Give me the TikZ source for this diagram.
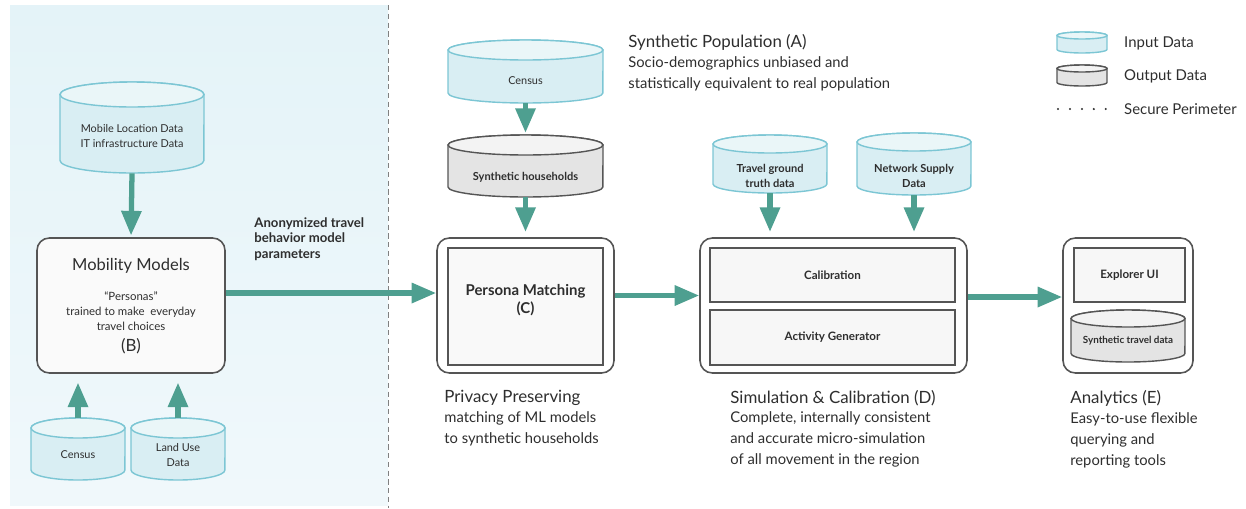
\documentclass[tikz,border=0pt]{standalone}
\usepackage{fontspec}
\setmainfont{Lato}
\usetikzlibrary{arrows.meta,positioning}
\definecolor{flowteal}{HTML}{4E9F90}
\definecolor{infill}{HTML}{D9EEF3}
\definecolor{inedge}{HTML}{7CC6D4}
\definecolor{outfill}{HTML}{E4E4E4}
\definecolor{outedge}{HTML}{555555}
\definecolor{panelbg}{HTML}{E4F3F8}
\definecolor{txt}{HTML}{2E2E2E}

% data store: kind, name, x, y, width, height, ellipse depth (px), node options
\newcommand{\datacyl}[8]{%
  \path[#1body] ({#3-#5/2},{#4-#6/2+#7/2}) -- ({#3-#5/2},{#4+#6/2-#7/2})
    arc[start angle=180, end angle=360, x radius=#5*0.01cm, y radius=#7*0.01cm]
    -- ({#3+#5/2},{#4-#6/2+#7/2})
    arc[start angle=0, end angle=180, x radius=#5*0.01cm, y radius=#7*0.01cm] -- cycle;
  \path[#1end] (#3,{#4-#6/2+#7/2}) ellipse [x radius=#5*0.01cm, y radius=#7*0.01cm];
  \node[inner sep=0pt, minimum width=#5*0.02cm, minimum height=#6*0.02cm, #8] (#2) at (#3,#4) {};
}

\begin{document}
\begin{tikzpicture}[
    x=0.02cm,y=-0.02cm,
    every node/.style={text=txt},
    inbody/.style={draw=inedge, line width=0.8pt, fill=infill},
    inend/.style={draw=inedge, line width=0.8pt, fill=infill!55!white},
    outbody/.style={draw=outedge, line width=0.8pt, fill=outfill},
    outend/.style={draw=outedge, line width=0.8pt, fill=outfill!45!white},
    cyllabel/.style={yshift=-#1, align=center, inner sep=0pt, font=\fontsize{6.2}{8.2}\selectfont},
    cylbold/.style={cyllabel=#1, font=\fontsize{6.3}{8}\selectfont\bfseries},
    stage/.style={draw=outedge, line width=0.9pt, fill=white, rounded corners=7pt},
    part/.style={draw=outedge, line width=0.9pt, fill=gray!6, align=center, font=\fontsize{6.6}{8}\selectfont\bfseries},
    flow/.style={draw=flowteal, line width=3pt, -{Triangle[length=14pt,width=11pt]}},
    caption/.style={align=left, font=\fontsize{8.4}{12}\selectfont, inner sep=0pt},
    heading/.style={anchor=north west, inner sep=0pt, font=\fontsize{9.6}{12}\selectfont}
    ]
    \useasboundingbox (0,0) rectangle (1246,508);
    % secure perimeter
    \shade[top color=panelbg, bottom color=panelbg!55!white] (10,5) rectangle (388,505);
    \draw[gray, dash pattern=on 3pt off 2pt] (388,5) -- (388,508);

    % mobility models (B)
    \datacyl{in}{mobdata}{132}{127.5}{144}{91}{25}{label={[cyllabel=4.8pt]center:{Mobile Location Data\\IT infrastructure Data}}}
    \node[stage, fill=gray!4, minimum width=3.76cm, minimum height=2.7cm] (mobmodel) at (131,305.5) {};
    \node[font=\fontsize{9.4}{11}\selectfont] at (131,266) {Mobility Models};
    \node[align=center, font=\fontsize{6.5}{8.5}\selectfont] at (131,311) {``Personas''\\trained to make\ \ everyday\\travel choices};
    \node[font=\fontsize{9.6}{11}\selectfont] at (131,346) {(B)};
    \datacyl{in}{census1}{78}{449}{94}{62}{20}{label={[cyllabel=3.4pt]center:Census}}
    \datacyl{in}{landuse}{178}{449}{94}{62}{20}{label={[cyllabel=3.4pt]center:{Land Use\\Data}}}
    \node[anchor=north west, align=left, inner sep=0pt, font=\fontsize{7.5}{8.8}\selectfont\bfseries] (anon) at (254,217) {Anonymized travel\\behavior model\\parameters};

    % synthetic population (A) and persona matching (C)
    \datacyl{in}{census2}{525.5}{71.5}{155}{63}{20}{label={[cyllabel=5.4pt]center:Census}}
    \datacyl{out}{synhh}{525.5}{166}{155}{62}{20}{label={[cylbold=6.2pt]center:Synthetic households}}
    \node[stage, minimum width=3.54cm, minimum height=2.7cm] (persona) at (525.5,305.5) {};
    \node[part, fill=gray!5, minimum width=3.1cm, minimum height=2.34cm, text depth=8.8pt, font=\fontsize{8.5}{10}\selectfont\bfseries] (matching) at (525.5,306.5) {Persona Matching\\(C)};
    \node[heading] (popt) at (628,34) {Synthetic Population (A)};
    \node[caption, below right=3pt and 0pt of popt.south west] {Socio-demographics unbiased and\\statistically equivalent to real population};

    % simulation and calibration (D)
    \datacyl{in}{travel}{770}{164}{114}{58}{18}{label={[cylbold=6.8pt]center:{Travel ground\\truth data}}}
    \datacyl{in}{netsup}{914}{164}{114}{62}{18}{label={[cylbold=6.8pt]center:{Network Supply\\Data}}}
    \node[stage, minimum width=5.34cm, minimum height=2.7cm] (sim) at (833.5,305.5) {};
    \node[part, minimum width=4.9cm, minimum height=1.08cm] (calib) at (832.5,275) {Calibration};
    \node[part, minimum width=4.9cm, minimum height=1.1cm] (actgen) at (832.5,337.5) {Activity Generator};

    % analytics (E)
    \node[stage, minimum width=2.6cm, minimum height=2.7cm] (analytics) at (1128,305.5) {};
    \node[part, minimum width=2.22cm, minimum height=1.08cm] (explorer) at (1129.5,275) {Explorer UI};
    \datacyl{out}{syntravel}{1128}{336}{114}{52}{17}{label={[cylbold=2.8pt, font=\fontsize{5.6}{7}\selectfont\bfseries]center:Synthetic travel data}}

    % captions
    \node[heading] (privt) at (444,390) {Privacy Preserving};
    \node[caption, below right=3pt and 0pt of privt.south west] {matching of ML models\\to synthetic households};
    \node[heading] (simt) at (730,390) {Simulation \& Calibration (D)};
    \node[caption, below right=3pt and 0pt of simt.south west] {Complete, internally consistent\\and accurate micro-simulation\\of all movement in the region};
    \node[heading] (anat) at (1070,390) {Analytics (E)};
    \node[caption, below right=3pt and 0pt of anat.south west] {Easy-to-use flexible\\querying and\\reporting tools};

    % legend
    \datacyl{in}{leginput}{1082}{42.5}{50}{21}{7}{}
    \datacyl{out}{legoutput}{1082}{75.5}{50}{21}{7}{}
    \coordinate (legdots) at (1058,109);
    \draw[txt, line width=1.3pt, line cap=round, dash pattern=on 0pt off 6.8pt] (legdots) -- ++(50,0);
    \node[anchor=west, font=\fontsize{8.5}{10}\selectfont] at (1118,43) {Input Data};
    \node[anchor=west, font=\fontsize{8.5}{10}\selectfont] at (1118,76) {Output Data};
    \node[anchor=west, font=\fontsize{8.5}{10}\selectfont] at (1118,109) {Secure Perimeter};

    % flows
    \draw[flow, shorten >=1pt] (mobdata.south) -- (mobmodel.north);
    \draw[flow, shorten >=5pt] (census1.north) -- (census1.north |- mobmodel.south);
    \draw[flow, shorten >=5pt] (landuse.north) -- (landuse.north |- mobmodel.south);
    \draw[flow] ([yshift=0.25cm]mobmodel.east) -- ([yshift=0.25cm]persona.west);
    \draw[flow, shorten >=1pt] (census2.south) -- (synhh.north);
    \draw[flow, shorten >=3pt] (synhh.south) -- (persona.north);
    \draw[flow, shorten >=3pt] (travel.south) -- (travel.south |- sim.north);
    \draw[flow, shorten >=3pt] (netsup.south) -- (netsup.south |- sim.north);
    \draw[flow] ([yshift=0.2cm]persona.east) -- ([yshift=0.2cm]sim.west);
    \draw[flow] ([yshift=0.17cm]sim.east) -- ([yshift=0.17cm]analytics.west);
\end{tikzpicture}
\end{document}
